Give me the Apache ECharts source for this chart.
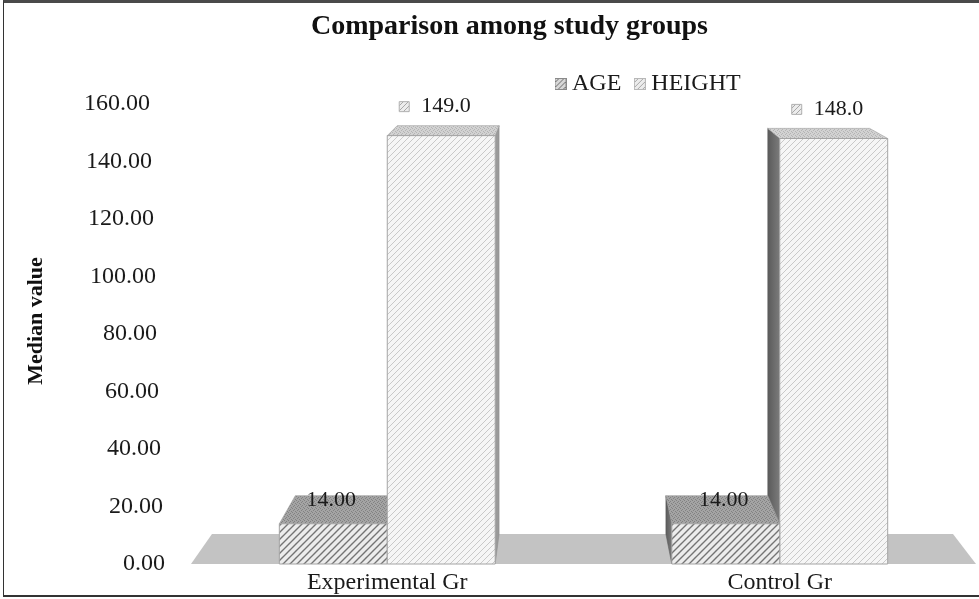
<!DOCTYPE html>
<html>
<head>
<meta charset="utf-8">
<script src="https://cdn.jsdelivr.net/npm/echarts@6/dist/echarts.min.js"></script>
<style>
  html, body { margin: 0; padding: 0; background: #fff; }
  #chart { position: absolute; left: 0; top: 0; width: 979px; height: 599px; }
  #frame {
    position: absolute; left: 3px; top: 0; width: 976px; height: 597px;
    border-top: 3px solid #4a4a4a; border-left: 1px solid #333; border-bottom: 2px solid #333;
    box-sizing: border-box; pointer-events: none;
  }
</style>
</head>
<body>
<div id="chart"></div>
<div id="frame"></div>
<script>
const groups = ['Experimental Gr', 'Control Gr']
const seriesNames = ['AGE', 'HEIGHT']
const ageValues = [14.0, 14.0]
const heightValues = [149.0, 148.0]
const floorLevel = [0]

const FONT = '"Liberation Serif", "Times New Roman", serif'
const BAR_FRAC = 0.275
const Y_MAX = 160
const Y_STEP = 20

// simple canvas textures for the hatched faces
function hatch(size, bg, line, width) {
  const c = document.createElement('canvas')
  c.width = c.height = size
  const g = c.getContext('2d')
  g.fillStyle = bg
  g.fillRect(0, 0, size, size)
  g.strokeStyle = line
  g.lineWidth = width
  g.beginPath()
  g.moveTo(-1, size + 1); g.lineTo(size + 1, -1)
  g.moveTo(-1, 1); g.lineTo(1, -1)
  g.moveTo(size - 1, size + 1); g.lineTo(size + 1, size - 1)
  g.stroke()
  return c
}

function speckle(bg, dot) {
  const c = document.createElement('canvas')
  c.width = c.height = 4
  const g = c.getContext('2d')
  g.fillStyle = bg
  g.fillRect(0, 0, 4, 4)
  g.fillStyle = dot
  ;[[0, 0], [2, 1], [1, 2], [3, 3]].forEach(([x, y]) => g.fillRect(x, y, 1, 1))
  return c
}

function icon(tex, stroke) {
  const c = document.createElement('canvas')
  c.width = 12; c.height = 12
  const g = c.getContext('2d')
  g.fillStyle = g.createPattern(tex, 'repeat')
  g.fillRect(0, 0, 12, 12)
  g.strokeStyle = stroke
  g.strokeRect(0.5, 0.5, 11, 11)
  return 'image://' + c.toDataURL()
}

const ageFront = hatch(7, '#ececec', '#747474', 1.4)
const ageTop = speckle('#a4a4a4', '#828282')
const heightFront = hatch(6, '#f6f6f6', '#c9c9c9', 1)
const heightTop = speckle('#d2d2d2', '#b4b4b4')
const ageIcon = hatch(5, '#d8d8d8', '#6c6c6c', 1)
const heightIcon = hatch(5, '#ececec', '#a8a8a8', 1)

// perspective: back point of a front point moves toward a vanishing point
function persp(cs) {
  const vx = cs.x + cs.width * 0.477
  const vy = cs.y - 182
  return {
    vx,
    dx: (x) => 0.056 * (vx - x),
    dy: (y) => -0.0467 * (y - vy),
  }
}

// the value axis leans back, so higher labels sit further left
const tickRich = {}
for (let i = 0; i <= Y_MAX / Y_STEP; i++) {
  tickRich['t' + i] = {
    fontFamily: FONT, fontSize: 24, color: '#1a1a1a',
    padding: [0, Math.round(i * Y_STEP * 0.094), 0, 0],
  }
}

function renderFloor(params, api) {
  const cs = params.coordSys
  const p = persp(cs)
  const y0 = api.coord([0, api.value(0)])[1]
  const xl = cs.x, xr = cs.x + cs.width
  return {
    type: 'polygon',
    z2: 0,
    shape: { points: [[xl, y0], [xr, y0], [xr + p.dx(xr), y0 + p.dy(y0)], [xl + p.dx(xl), y0 + p.dy(y0)]] },
    style: { fill: '#c3c3c3' },
  }
}

function makeBar(slot, front, top, kind) {
  return function (params, api) {
    const cs = params.coordSys
    const p = persp(cs)
    const cat = api.value(0)
    const val = api.value(1)
    const t = api.coord([cat, val])
    const b = api.coord([cat, 0])
    const bw = api.size([1, 0])[0] * BAR_FRAC
    const xl = t[0] + slot * bw
    const xr = xl + bw
    const yt = t[1], yb = b[1]
    const cx = (xl + xr) / 2
    const z2 = 100 - Math.round(Math.abs(cx - p.vx) / 10)
    const children = []

    if (xr < p.vx) {
      children.push({
        type: 'polygon', z2,
        shape: { points: [[xr, yt], [xr, yb], [xr + p.dx(xr), yb + p.dy(yb)], [xr + p.dx(xr), yt + p.dy(yt)]] },
        style: { fill: '#9a9a9a', stroke: '#8a8a8a', lineWidth: 0.5 },
      })
    }
    if (xl > p.vx) {
      children.push({
        type: 'polygon', z2,
        shape: { points: [[xl, yt], [xl, yb], [xl + p.dx(xl), yb + p.dy(yb)], [xl + p.dx(xl), yt + p.dy(yt)]] },
        style: {
          fill: { type: 'linear', x: 0, y: 0, x2: 1, y2: 0, colorStops: [{ offset: 0, color: '#5a5a5a' }, { offset: 1, color: '#7c7c7c' }] },
          stroke: '#5a5a5a', lineWidth: 0.5,
        },
      })
    }
    children.push({
      type: 'polygon', z2,
      shape: { points: [[xl, yt], [xr, yt], [xr + p.dx(xr), yt + p.dy(yt)], [xl + p.dx(xl), yt + p.dy(yt)]] },
      style: { fill: { image: top, repeat: 'repeat' }, stroke: '#9a9a9a', lineWidth: 0.6 },
    })
    children.push({
      type: 'rect', z2,
      shape: { x: xl, y: yt, width: bw, height: yb - yt },
      style: { fill: { image: front, repeat: 'repeat' }, stroke: '#a4a4a4', lineWidth: 1 },
    })

    if (kind === 'age') {
      children.push({
        type: 'text', z2: 300,
        style: {
          text: val.toFixed(2), x: cx - 2, y: yt + p.dy(yt) * 0.82,
          align: 'center', verticalAlign: 'middle',
          font: '22px ' + FONT, fill: '#1a1a1a',
        },
      })
    } else {
      const ly = yt + p.dy(yt) - 19
      children.push({
        type: 'rect', z2: 300,
        shape: { x: cx - 42, y: ly - 5, width: 10, height: 10 },
        style: { fill: { image: heightIcon, repeat: 'repeat' }, stroke: '#b0b0b0', lineWidth: 1 },
      })
      children.push({
        type: 'text', z2: 300,
        style: {
          text: val.toFixed(1), x: cx - 20, y: ly,
          align: 'left', verticalAlign: 'middle',
          font: '22px ' + FONT, fill: '#1a1a1a',
        },
      })
    }
    return { type: 'group', children }
  }
}

const chart = echarts.init(document.getElementById('chart'))
chart.setOption({
  backgroundColor: '#fff',
  animation: false,
  title: {
    text: 'Comparison among study groups',
    left: 306,
    top: 8,
    textStyle: { fontFamily: FONT, fontWeight: 'bold', fontSize: 28, color: '#111' },
  },
  legend: {
    left: 549,
    top: 67,
    itemWidth: 13,
    itemHeight: 12,
    itemGap: 12,
    textStyle: { fontFamily: FONT, fontSize: 24, color: '#1a1a1a' },
    data: [
      { name: seriesNames[0], icon: icon(ageIcon, '#8a8a8a') },
      { name: seriesNames[1], icon: icon(heightIcon, '#b8b8b8') },
    ],
  },
  grid: { left: 191, right: 3, top: 104, bottom: 35, containLabel: false, outerBoundsMode: 'none' },
  xAxis: {
    type: 'category',
    data: groups,
    axisLine: { show: false },
    axisTick: { show: false },
    axisLabel: { margin: 7, fontFamily: FONT, fontSize: 24, color: '#1a1a1a' },
  },
  yAxis: {
    type: 'value',
    min: 0,
    max: Y_MAX,
    interval: Y_STEP,
    name: 'Median value',
    nameLocation: 'middle',
    nameRotate: 90,
    nameGap: 144,
    nameTextStyle: { fontFamily: FONT, fontWeight: 'bold', fontSize: 22, color: '#111', padding: [0, 0, 0, 26] },
    axisLine: { show: false },
    axisTick: { show: false },
    splitLine: { show: false },
    axisLabel: {
      margin: 26,
      formatter: (v) => `{t${Math.round(v / Y_STEP)}|${v.toFixed(2)}}`,
      rich: tickRich,
    },
  },
  series: [
    {
      name: 'floor',
      type: 'custom',
      z: 1,
      clip: false,
      silent: true,
      renderItem: renderFloor,
      data: floorLevel.map((v) => [v]),
    },
    {
      name: seriesNames[0],
      type: 'custom',
      z: 2,
      clip: false,
      renderItem: makeBar(-1, ageFront, ageTop, 'age'),
      encode: { x: 0, y: 1 },
      data: groups.map((g, i) => [i, ageValues[i]]),
    },
    {
      name: seriesNames[1],
      type: 'custom',
      z: 2,
      clip: false,
      renderItem: makeBar(0, heightFront, heightTop, 'height'),
      encode: { x: 0, y: 1 },
      data: groups.map((g, i) => [i, heightValues[i]]),
    },
  ],
})
</script>
</body>
</html>
